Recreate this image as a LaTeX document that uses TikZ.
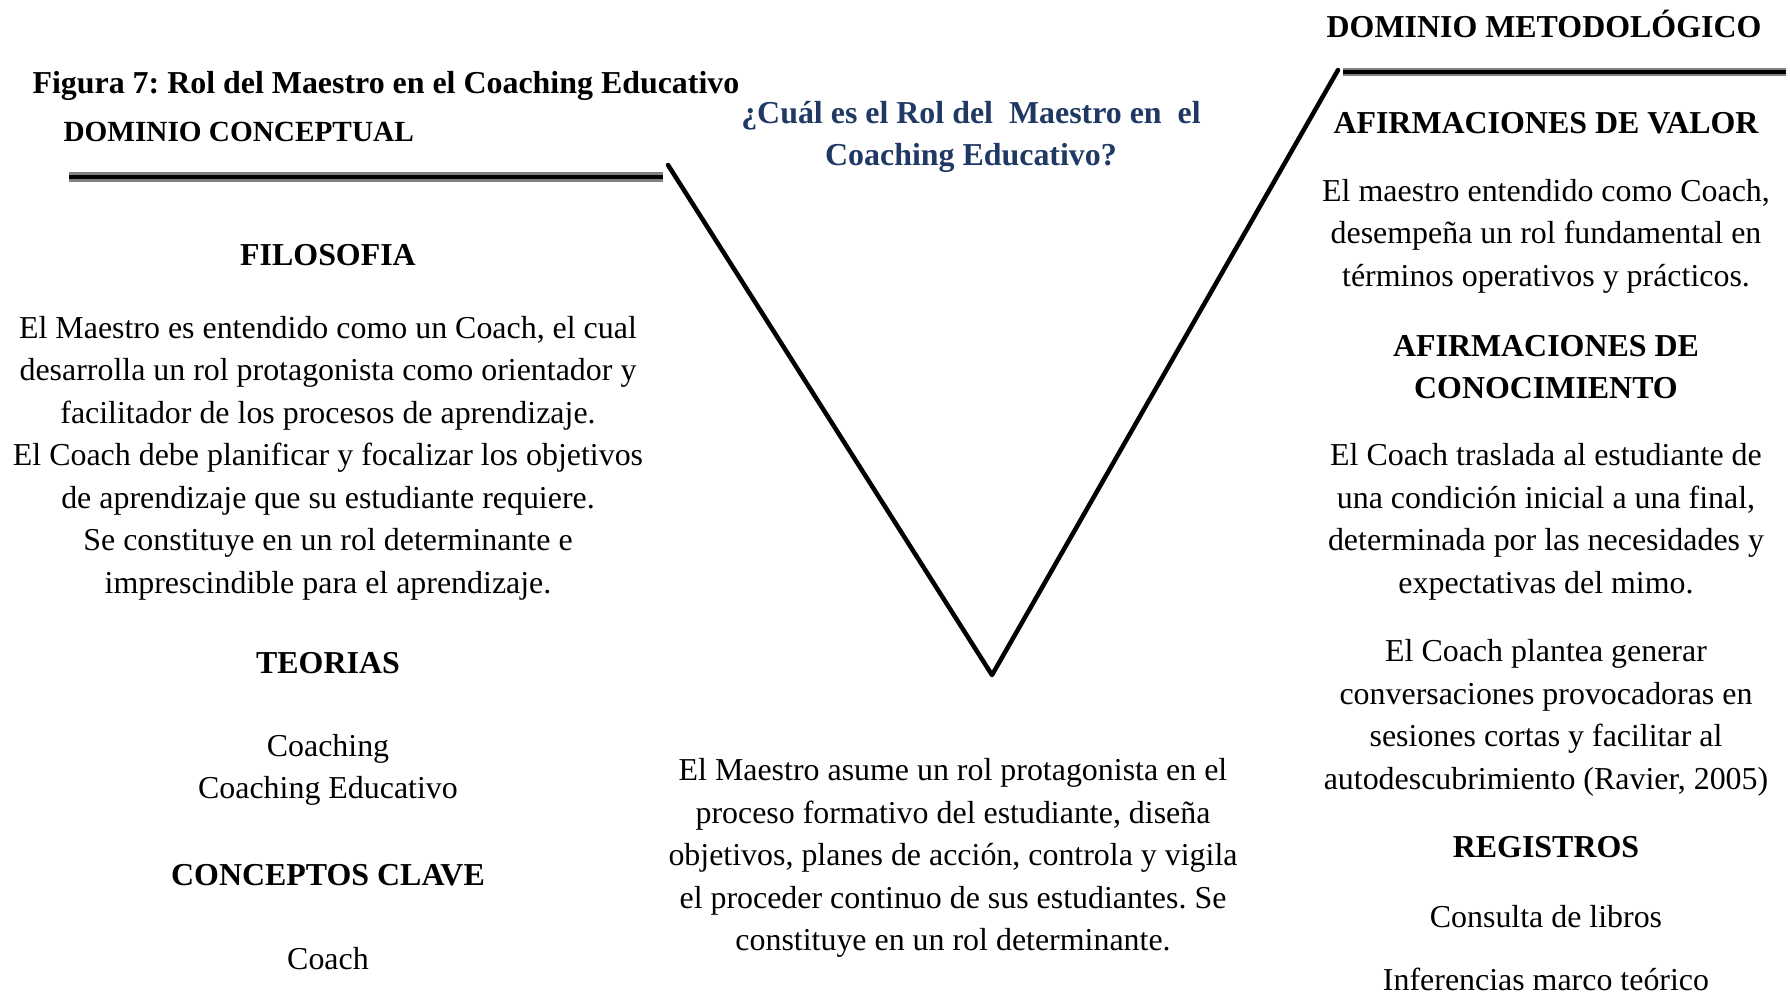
\documentclass[tikz,border=0pt]{standalone}
\usepackage{fontspec}
\setmainfont{Liberation Serif}
\definecolor{azulpreg}{RGB}{31,56,100}
\frenchspacing
\begin{document}
\begin{tikzpicture}[x=0.376pt, y=-0.376pt,
  txt/.style = {inner sep=0pt, align=center, font=\fontsize{12}{16}\selectfont},
  tit/.style = {txt, font=\fontsize{12}{16}\selectfont\bfseries},
  raya/.style = {draw=gray, double=black, line width=1.1pt, double distance=1.5pt},
  brazo/.style = {line width=1.7pt, line cap=round, line join=round}]
\useasboundingbox (0,0) rectangle (1790,998);

% encabezados
\node [tit, anchor=west] (figura) at (32,86) {Figura 7: Rol del Maestro en el Coaching Educativo};
\node [tit, anchor=west, font=\fontsize{11}{14}\selectfont\bfseries] (domcon) at (63,132) {DOMINIO CONCEPTUAL};
\node [tit] (dommet) at (1544,24) {DOMINIO METODOL\'OGICO};
\node [tit, text=azulpreg] (pregunta) at (971,137) {¿Cuál es el Rol del\ \ Maestro en\ \ el\\ Coaching Educativo?};

% la V
\coordinate (vizq) at (668,165);
\coordinate (vbase) at (992,675);
\coordinate (vder) at (1338,70);
\draw [brazo] (vizq) -- (vbase) -- (vder);

\coordinate (rizq1) at (69,177);
\coordinate (rizq2) at (663,177);
\draw [raya] (rizq1) -- (rizq2);
\coordinate (rder1) at (1343,72);
\coordinate (rder2) at (1786,72);
\draw [raya, line width=0.8pt, double distance=1.2pt] (rder1) -- (rder2);

% lado conceptual
\node [tit] (filo) at (328,255) {FILOSOFIA};
\node [txt] (filotxt) at (328,458) {El Maestro es entendido como un Coach, el cual\\
  desarrolla un rol protagonista como orientador y\\
  facilitador de los procesos de aprendizaje.\\
  El Coach debe planificar y focalizar los objetivos\\
  de aprendizaje que su estudiante requiere.\\
  Se constituye en un rol determinante e\\
  imprescindible para el aprendizaje.};
\node [tit] (teo) at (328,663) {TEORIAS};
\node [txt] (teotxt) at (328,770) {Coaching\\ Coaching Educativo};
\node [tit] (conc) at (328,875) {CONCEPTOS CLAVE};
\node [txt] (conctxt) at (328,959) {Coach};

% respuesta
\node [txt] (respuesta) at (953,858) {El Maestro asume un rol protagonista en el\\
  proceso formativo del estudiante, diseña\\
  objetivos, planes de acción, controla y vigila\\
  el proceder continuo de sus estudiantes. Se\\
  constituye en un rol determinante.};

% lado metodologico
\node [tit] (afval) at (1546,123) {AFIRMACIONES DE VALOR};
\node [txt] (afvaltxt) at (1546,236) {El maestro entendido como Coach,\\
  desempeña un rol fundamental en\\
  términos operativos y prácticos.};
\node [tit] (afcon) at (1546,367) {AFIRMACIONES DE\\ CONOCIMIENTO};
\node [txt] (afcontxt) at (1546,522) {El Coach traslada al estudiante de\\
  una condición inicial a una final,\\
  determinada por las necesidades y\\
  expectativas del mimo.};
\node [txt] (afcontxtb) at (1546,718) {El Coach plantea generar\\
  conversaciones provocadoras en\\
  sesiones cortas y facilitar al\\
  autodescubrimiento (Ravier, 2005)};
\node [tit] (reg) at (1546,847) {REGISTROS};
\node [txt] (regtxt) at (1546,917) {Consulta de libros};
\node [txt] (regtxtb) at (1546,979) {Inferencias marco teórico};
\end{tikzpicture}
\end{document}
